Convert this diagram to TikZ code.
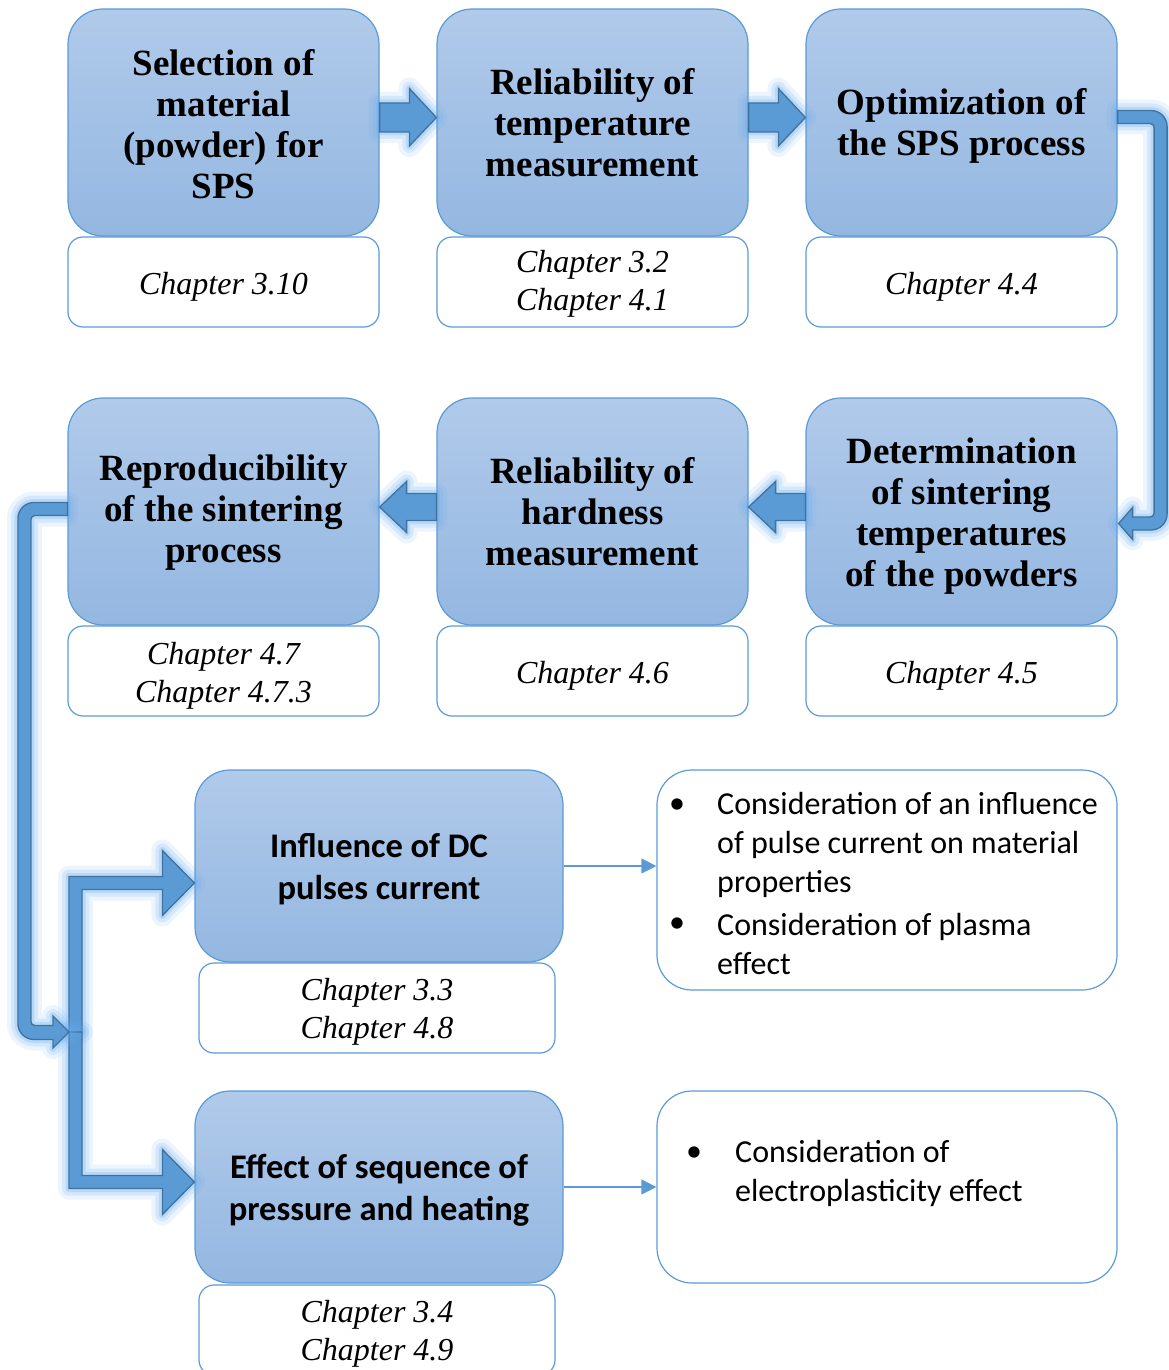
\documentclass[tikz,border=0pt]{standalone}
\usepackage{fontspec}
\setmainfont{Liberation Serif}
\newfontfamily\calfont{Carlito}
\usetikzlibrary{arrows.meta,calc}
\definecolor{boxtop}{RGB}{176,202,234}
\definecolor{boxbot}{RGB}{148,183,225}
\definecolor{boxline}{RGB}{91,155,213}
\definecolor{arrowfill}{RGB}{91,155,213}
\definecolor{arrowdark}{RGB}{65,113,156}
\definecolor{glowc}{RGB}{100,170,240}
\newcommand\RArr[2]{\draw[blockarrow] let \p1=(#1), \p2=(#2) in (\x1,\y1+19.5pt) -- (\x2-27pt,\y1+19.5pt) -- (\x2-27pt,\y1+34pt) -- (\x2,\y1+5pt) -- (\x2-27pt,\y1-23.5pt) -- (\x2-27pt,\y1-9.5pt) -- (\x1,\y1-9.5pt) -- cycle;}
\newcommand\LArr[2]{\draw[blockarrow] let \p1=(#1), \p2=(#2) in (\x1,\y1+18pt) -- (\x2+27pt,\y1+18pt) -- (\x2+27pt,\y1+30pt) -- (\x2,\y1+4.5pt) -- (\x2+27pt,\y1-21pt) -- (\x2+27pt,\y1-9pt) -- (\x1,\y1-9pt) -- cycle;}
\begin{document}
\begin{tikzpicture}[x=1pt,y=1pt,
  bluebox/.style={draw=boxline, line width=1.2pt, rounded corners=35pt, top color=boxtop, bottom color=boxbot, inner sep=0pt},
  bigbox/.style={bluebox, minimum width=311pt, minimum height=227pt},
  widebox/.style={bluebox, minimum width=368pt, minimum height=192pt},
  chapbox/.style={draw=boxline, line width=1.2pt, rounded corners=15pt, fill=white, inner sep=0pt, minimum height=90pt},
  listbox/.style={draw=boxline, line width=1.2pt, rounded corners=35pt, fill=white, inner sep=0pt, minimum width=460pt},
  bigtext/.style={align=center, inner sep=0pt, font=\bfseries\fontsize{37}{41}\selectfont},
  widetext/.style={align=center, inner sep=0pt, font=\calfont\bfseries\fontsize{34.5}{42}\selectfont},
  chaptext/.style={align=center, inner sep=0pt, font=\itshape\fontsize{32}{38}\selectfont},
  btext/.style={font=\calfont\fontsize{32}{39}\selectfont, align=left, inner sep=0pt, anchor=west},
  bul/.style={font=\calfont\fontsize{32}{39}\selectfont, inner sep=0pt},
  conn/.style={draw=boxline, line width=1.2pt, -{Triangle[length=15pt,width=15pt]}},
  blockarrow/.style={fill=arrowfill, draw=arrowdark, line width=1.3pt,
    preaction={draw=glowc, line width=22pt, opacity=0.12, line join=round},
    preaction={draw=glowc, line width=14pt, opacity=0.18, line join=round},
    preaction={draw=glowc, line width=7pt, opacity=0.25, line join=round}}
]
\useasboundingbox (0,0) rectangle (1168,-1370);
% row 1
\node[bigbox] (b1) at (223.5,-122.5) {};
\node[bigbox] (b2) at (592.5,-122.5) {};
\node[bigbox] (b3) at (961.5,-122.5) {};
\node[bigtext] (b1t) at ([yshift=-2pt]b1.center) {Selection of\\material\\(powder) for\\SPS};
\node[bigtext] (b2t) at ([yshift=0pt]b2.center) {Reliability of\\temperature\\measurement};
\node[bigtext] (b3t) at ([yshift=-3pt]b3.center) {Optimization of\\the SPS process};
\node[chapbox, minimum width=311pt] (c1) at (223.5,-282) {};
\node[chapbox, minimum width=311pt] (c2) at (592.5,-282) {};
\node[chapbox, minimum width=311pt] (c3) at (961.5,-282) {};
\node[chaptext] (c1t) at ([yshift=-4.5pt]c1.center) {Chapter 3.10};
\node[chaptext] (c2t) at ([yshift=-2pt]c2.center) {Chapter 3.2\\Chapter 4.1};
\node[chaptext] (c3t) at ([yshift=-4.5pt]c3.center) {Chapter 4.4};
% row 2
\node[bigbox] (b4) at (223.5,-511.5) {};
\node[bigbox] (b5) at (592.5,-511.5) {};
\node[bigbox] (b6) at (961.5,-511.5) {};
\node[bigtext] (b4t) at ([yshift=-1pt]b4.center) {Reproducibility\\of the sintering\\process};
\node[bigtext] (b5t) at ([yshift=-0.5pt]b5.center) {Reliability of\\hardness\\measurement};
\node[bigtext] (b6t) at ([yshift=-4.5pt]b6.center) {Determination\\of sintering\\temperatures\\of the powders};
\node[chapbox, minimum width=311pt] (c4) at (223.5,-671) {};
\node[chapbox, minimum width=311pt] (c5) at (592.5,-671) {};
\node[chapbox, minimum width=311pt] (c6) at (961.5,-671) {};
\node[chaptext] (c4t) at ([yshift=-4.5pt]c4.center) {Chapter 4.7\\Chapter 4.7.3};
\node[chaptext] (c5t) at ([yshift=-4.5pt]c5.center) {Chapter 4.6};
\node[chaptext] (c6t) at ([yshift=-4.5pt]c6.center) {Chapter 4.5};
% row 3
\node[widebox] (b7) at (379,-866) {};
\node[widetext] (b7t) at ([yshift=-3pt]b7.center) {Influence of DC\\pulses current};
\node[chapbox, minimum width=356pt] (c7) at (377,-1008) {};
\node[chaptext] (c7t) at ([yshift=-4pt]c7.center) {Chapter 3.3\\Chapter 4.8};
\node[listbox, minimum height=220pt] (l1) at (887,-880) {};
\node[bul] (l1a) at (677,-806) {•};
\node[btext] (l1t) at (717,-845) {Consideration of an influence\\of pulse current on material\\properties};
\node[bul] (l1b) at (677,-925) {•};
\node[btext] (l1u) at (717,-944) {Consideration of plasma\\effect};
% row 4
\node[widebox] (b8) at (379,-1187) {};
\node[widetext] (b8t) at ([yshift=-3pt]b8.center) {Effect of sequence of\\pressure and heating};
\node[chapbox, minimum width=356pt] (c8) at (377,-1330) {};
\node[chaptext] (c8t) at ([yshift=-4pt]c8.center) {Chapter 3.4\\Chapter 4.9};
\node[listbox, minimum height=192pt] (l2) at (887,-1187) {};
\node[bul] (l2a) at (694,-1154) {•};
\node[btext] (l2t) at (735,-1173.5) {Consideration of\\electroplasticity effect};
% thin connectors
\draw[conn] (b7.east) -- (b7.east -| l1.west);
\draw[conn] (b8.east) -- (b8.east -| l2.west);
% block arrows
\RArr{b1.east}{b2.west}
\RArr{b2.east}{b3.west}
\LArr{b6.west}{b5.east}
\LArr{b5.west}{b4.east}
\draw[blockarrow] let \p1=(b3.east), \p2=(b6.east) in
  (\x1,\y1+12pt) -- (\x1+33.5pt,\y1+12pt) arc[start angle=90,end angle=0,radius=16pt]
  -- (\x1+49.5pt,\y2-2.5pt) arc[start angle=0,end angle=-90,radius=16pt]
  -- (\x2+15pt,\y2-18.5pt) -- (\x2+15pt,\y2-28pt) -- (\x2+1pt,\y2-12pt) -- (\x2+15pt,\y2+4pt) -- (\x2+15pt,\y2-5.5pt)
  -- (\x1+32.5pt,\y2-5.5pt) arc[start angle=-90,end angle=0,radius=4pt]
  -- (\x1+36.5pt,\y1-5pt) arc[start angle=0,end angle=90,radius=4pt]
  -- (\x1,\y1-1pt) -- cycle;
\coordinate (j) at (75.5,-1032);
\draw[blockarrow] let \p1=(j), \p2=(b7.west) in
  (\x1-6.5pt,\y1) -- (\x1-6.5pt,\y2-10.5pt) -- (\x2-32pt,\y2-10.5pt) -- (\x2-32pt,\y2+15.5pt) -- (\x2,\y2-17pt)
  -- (\x2-32pt,\y2-49.5pt) -- (\x2-32pt,\y2-23.5pt) -- (\x1+6.5pt,\y2-23.5pt) -- (\x1+6.5pt,\y1) -- cycle;
\draw[blockarrow] let \p1=(j), \p2=(b8.west) in
  (\x1-6.5pt,\y1) -- (\x1-6.5pt,\y2-1.5pt) -- (\x2-32pt,\y2-1.5pt) -- (\x2-32pt,\y2-27.5pt) -- (\x2,\y2+5pt)
  -- (\x2-32pt,\y2+37.5pt) -- (\x2-32pt,\y2+11.5pt) -- (\x1+6.5pt,\y2+11.5pt) -- (\x1+6.5pt,\y1) -- cycle;
\draw[blockarrow] let \p1=(b4.west), \p2=(j) in
  (\x1,\y1+9pt) -- (\x1-33.5pt,\y1+9pt) arc[start angle=90,end angle=180,radius=16pt]
  -- (\x1-49.5pt,\y2+8.5pt) arc[start angle=180,end angle=270,radius=16pt]
  -- (\x2-22.5pt,\y2-7.5pt) -- (\x2-22.5pt,\y2-16pt) -- (\x2-6.5pt,\y2) -- (\x2-22.5pt,\y2+16pt) -- (\x2-22.5pt,\y2+6.5pt)
  -- (\x1-32.5pt,\y2+6.5pt) arc[start angle=270,end angle=180,radius=4pt]
  -- (\x1-36.5pt,\y1-8pt) arc[start angle=180,end angle=90,radius=4pt]
  -- (\x1,\y1-4pt) -- cycle;
\end{tikzpicture}
\end{document}
